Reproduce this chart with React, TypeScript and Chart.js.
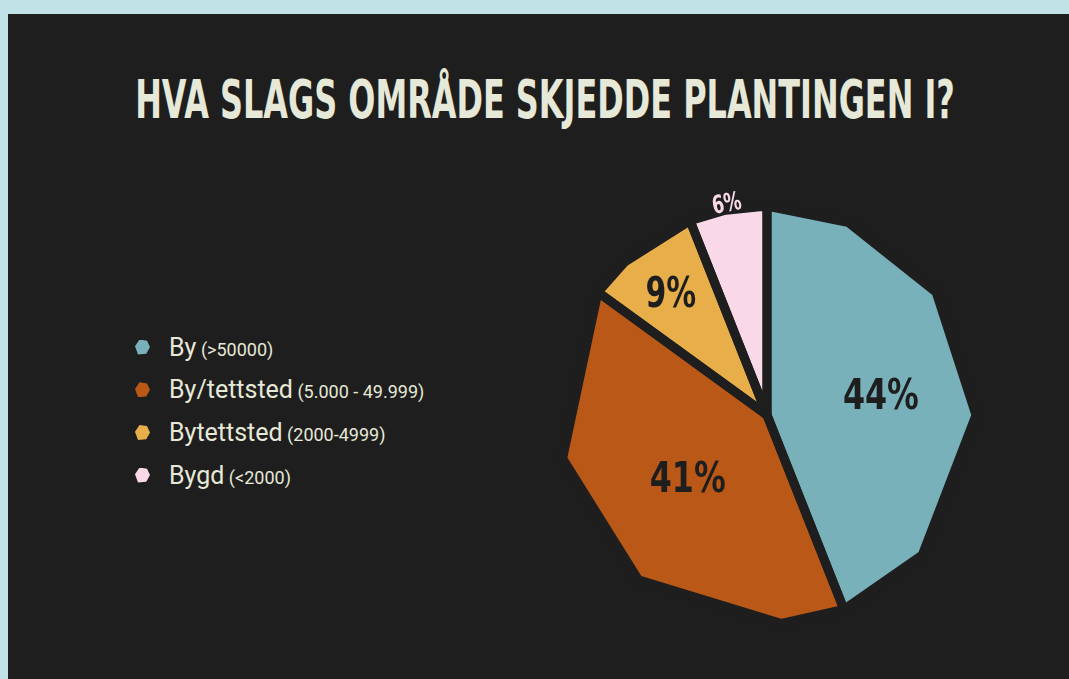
import React, { useEffect, useLayoutEffect, useRef, useState } from 'react';
import { Chart, registerables } from 'chart.js';

Chart.register(...registerables);

// ---- data ----
const title = 'HVA SLAGS OMRÅDE SKJEDDE PLANTINGEN I?';
const categories = ['By', 'By/tettsted', 'Bytettsted', 'Bygd'];
const subLabels = ['(>50000)', '(5.000 - 49.999)', '(2000-4999)', '(<2000)'];
const values = [44, 41, 9, 6];

// ---- style ----
const sliceColors = ['#79b1ba', '#ba5818', '#e8ae4a', '#f9d9e8'];
const labelColors = ['#1e1e1e', '#1e1e1e', '#1e1e1e', '#f9d9e8'];
const labelRadiusFactor = [0.555, 0.48, 0.75, 1.035];
const labelFontSize = [43, 43, 43, 25];
const labelRotate = [false, false, false, true];
// low-poly outline: polygon vertex angles (deg, clockwise from top)
const polyVertexAngles = [23, 54, 90, 132, 176, 218, 258, 317, 348];
const BG = '#1e1e1e';
const TEXT = '#e6e8d8';
const CONDENSED = "'Liberation Sans Narrow', 'DejaVu Sans Condensed', 'Arial Narrow', sans-serif";

const polyPiePlugin = {
  id: 'polyPie',
  beforeDatasetDraw(chart: any, args: any) {
    const meta = chart.getDatasetMeta(args.index);
    const ctx = chart.ctx as CanvasRenderingContext2D;
    const paths = meta.data.map((arc: any) => {
      const { x, y, startAngle, endAngle, outerRadius } = arc.getProps(
        ['x', 'y', 'startAngle', 'endAngle', 'outerRadius'],
        true
      );
      const pt = (a: number) => [x + outerRadius * Math.cos(a), y + outerRadius * Math.sin(a)];
      const pts: number[][] = [[x, y], pt(startAngle)];
      polyVertexAngles.forEach((d) => {
        const a = ((d - 90) * Math.PI) / 180;
        if (a > startAngle + 0.01 && a < endAngle - 0.01) pts.push(pt(a));
      });
      pts.push(pt(endAngle));
      return pts;
    });
    const trace = (pts: number[][]) => {
      ctx.beginPath();
      pts.forEach((p, i) => (i === 0 ? ctx.moveTo(p[0], p[1]) : ctx.lineTo(p[0], p[1])));
      ctx.closePath();
    };
    ctx.save();
    paths.forEach((pts: number[][], i: number) => {
      trace(pts);
      ctx.fillStyle = sliceColors[i];
      ctx.fill();
    });
    ctx.lineWidth = 9;
    ctx.lineJoin = 'round';
    ctx.strokeStyle = BG;
    paths.forEach((pts: number[][]) => {
      trace(pts);
      ctx.stroke();
    });
    ctx.restore();
    return false;
  },
  afterDatasetsDraw(chart: any) {
    const meta = chart.getDatasetMeta(0);
    const ctx = chart.ctx as CanvasRenderingContext2D;
    const data = chart.data.datasets[0].data as number[];
    ctx.save();
    meta.data.forEach((arc: any, i: number) => {
      const { x, y, startAngle, endAngle, outerRadius } = arc.getProps(
        ['x', 'y', 'startAngle', 'endAngle', 'outerRadius'],
        true
      );
      const mid = (startAngle + endAngle) / 2;
      const r = outerRadius * labelRadiusFactor[i];
      const cx = x + r * Math.cos(mid);
      const cy = y + r * Math.sin(mid);
      ctx.font = `bold ${labelFontSize[i]}px ${CONDENSED}`;
      ctx.fillStyle = labelColors[i];
      ctx.textAlign = 'center';
      ctx.textBaseline = 'alphabetic';
      const txt = `${data[i]}%`;
      const m = ctx.measureText(txt);
      const cap = ctx.measureText('4').actualBoundingBoxAscent;
      // condense so width/cap ratio matches the narrow display face
      const sx = Math.min(1, (cap * 2.45 * txt.length) / 3 / m.width);
      ctx.save();
      ctx.translate(cx, cy);
      if (labelRotate[i]) ctx.rotate(mid + Math.PI / 2);
      ctx.scale(sx, 1);
      ctx.fillText(txt, 0, cap / 2);
      ctx.restore();
    });
    ctx.restore();
  },
};

function PieChart() {
  const ref = useRef<HTMLCanvasElement | null>(null);
  useEffect(() => {
    if (!ref.current) return;
    const chart = new Chart(ref.current, {
      type: 'pie',
      data: {
        labels: categories,
        datasets: [
          {
            data: values,
            backgroundColor: sliceColors,
            borderWidth: 0,
            hoverOffset: 0,
            radius: 209,
          } as any,
        ],
      },
      options: {
        animation: false,
        responsive: false,
        events: [],
        layout: { padding: 0 },
        plugins: {
          legend: { display: false },
          tooltip: { enabled: false },
          title: { display: false },
        },
      },
      plugins: [polyPiePlugin as any],
    });
    return () => chart.destroy();
  }, []);
  return (
    <div style={{ position: 'absolute', left: 537, top: 185, width: 460, height: 460 }}>
      <canvas ref={ref} width={460} height={460} style={{ width: 460, height: 460 }} />
    </div>
  );
}

function Title() {
  const ref = useRef<HTMLSpanElement | null>(null);
  const [sx, setSx] = useState(1);
  useLayoutEffect(() => {
    if (ref.current) {
      const w = ref.current.offsetWidth;
      if (w > 0) setSx(820 / w);
    }
  }, []);
  return (
    <span
      ref={ref}
      style={{
        position: 'absolute',
        left: 545,
        top: 74,
        lineHeight: '52px',
        height: 52,
        whiteSpace: 'nowrap',
        fontFamily: CONDENSED,
        fontWeight: 'bold',
        fontSize: 53,
        color: TEXT,
        transform: `translateX(-50%) scaleX(${sx})`,
        transformOrigin: 'center',
      }}
    >
      {title}
    </span>
  );
}

function Legend() {
  return (
    <div>
      {categories.map((c, i) => {
        const top = 332.5 + i * 42.7;
        return (
          <div
            key={c}
            style={{
              position: 'absolute',
              left: 135,
              top,
              height: 30,
              whiteSpace: 'nowrap',
            }}
          >
            <div
              style={{
                position: 'absolute',
                left: 0,
                top: 7,
                width: 15,
                height: 15,
                background: sliceColors[i],
                clipPath: 'polygon(30% 0, 80% 8%, 100% 50%, 75% 95%, 20% 100%, 0 45%)',
              }}
            />
            <div
              style={{
                position: 'absolute',
                left: 34,
                top: 0,
                fontFamily: 'Roboto, sans-serif',
                fontSize: 25,
                lineHeight: '30px',
                color: TEXT,
              }}
            >
              {c}
              <span style={{ fontSize: 18 }}> {subLabels[i]}</span>
            </div>
          </div>
        );
      })}
    </div>
  );
}

export default function App() {
  return (
    <div style={{ position: 'fixed', inset: 0, background: '#c1e3e8', overflow: 'hidden' }}>
      <div
        style={{ position: 'absolute', left: 8, top: 14, width: 1100, height: 700, background: BG }}
      />
      <Title />
      <Legend />
      <PieChart />
    </div>
  );
}
